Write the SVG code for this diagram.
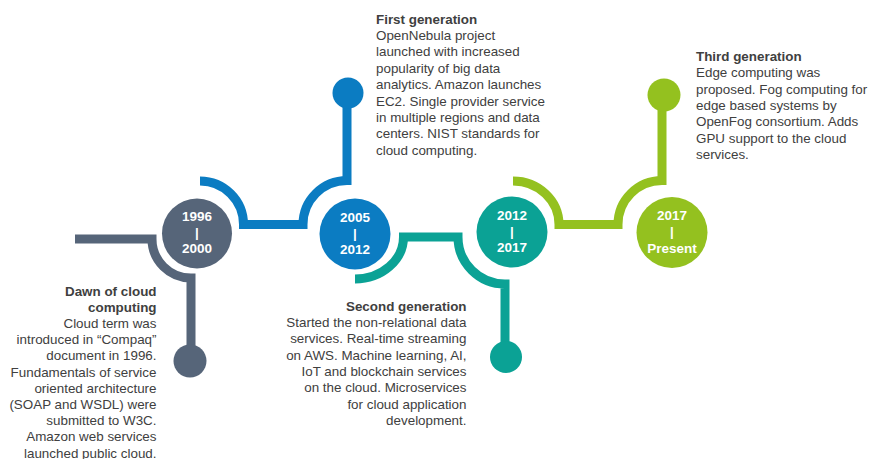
<svg xmlns="http://www.w3.org/2000/svg" width="870" height="459" viewBox="0 0 870 459">
  <style>
    .conn { fill: none; stroke-width: 9; stroke-linecap: butt; stroke-linejoin: miter; }
    .grey { stroke: #566579; }
    .blue { stroke: #0b7cc2; }
    .teal { stroke: #0ba295; }
    .green { stroke: #94c11f; }
    .yr { font-family: "Liberation Sans", Arial, sans-serif; font-weight: bold; font-size: 13.5px; fill: #ffffff; text-anchor: middle; }
    .desc { font-family: "Liberation Sans", Arial, sans-serif; font-size: 13.4px; fill: #404040; }
    .ttl { font-weight: bold; }
    .r { text-anchor: end; }
  </style>
  <rect width="870" height="459" fill="#ffffff"/>

  <g id="connectors">
    <path class="conn grey" d="M75,239 H152 A39,39 0 0 0 191,278 V350"/>
    <circle cx="190" cy="361" r="16.5" fill="#566579"/>
    <path class="conn blue" d="M200,181 A43.5,43.5 0 0 1 243.5,224.5 H303 A44,44 0 0 1 347,180.5 V100"/>
    <circle cx="348" cy="93" r="15.5" fill="#0b7cc2"/>
    <path class="conn teal" d="M355,279 A48.5,42 0 0 0 403.5,237 H458 A47,47 0 0 0 505,284 V350"/>
    <circle cx="506" cy="357" r="16" fill="#0ba295"/>
    <path class="conn green" d="M513,181 A46,43.5 0 0 1 559,224.5 H618 A44,44 0 0 1 662,180.5 V100"/>
    <circle cx="664" cy="95" r="16.5" fill="#94c11f"/>
  </g>

  <g id="node-1996-2000">
    <circle cx="197" cy="233.5" r="35" fill="#566579"/>
    <text class="yr" x="197" y="221">1996</text>
    <text class="yr" x="197" y="237">|</text>
    <text class="yr" x="197" y="253">2000</text>
  </g>
  <g id="node-2005-2012">
    <circle cx="355" cy="234" r="35.5" fill="#0b7cc2"/>
    <text class="yr" x="355" y="221.5">2005</text>
    <text class="yr" x="355" y="237.5">|</text>
    <text class="yr" x="355" y="253.5">2012</text>
  </g>
  <g id="node-2012-2017">
    <circle cx="512" cy="232" r="35.5" fill="#0ba295"/>
    <text class="yr" x="512" y="220">2012</text>
    <text class="yr" x="512" y="236">|</text>
    <text class="yr" x="512" y="252">2017</text>
  </g>
  <g id="node-2017-present">
    <circle cx="672" cy="232.5" r="35.5" fill="#94c11f"/>
    <text class="yr" x="672" y="220">2017</text>
    <text class="yr" x="672" y="236">|</text>
    <text class="yr" x="672" y="252.5">Present</text>
  </g>

  <g id="text-dawn" class="desc r">
    <text class="ttl" x="156.5" y="295.5">Dawn of cloud</text>
    <text class="ttl" x="156.5" y="311.7">computing</text>
    <text x="156.5" y="327.9">Cloud term was</text>
    <text x="156.5" y="344.1">introduced in “Compaq”</text>
    <text x="156.5" y="360.3">document in 1996.</text>
    <text x="156.5" y="376.5">Fundamentals of service</text>
    <text x="156.5" y="392.7">oriented architecture</text>
    <text x="156.5" y="408.9">(SOAP and WSDL) were</text>
    <text x="156.5" y="425.1">submitted to W3C.</text>
    <text x="156.5" y="441.3">Amazon web services</text>
    <text x="156.5" y="457.5">launched public cloud.</text>
  </g>

  <g id="text-first" class="desc">
    <text class="ttl" x="376" y="23.5">First generation</text>
    <text x="376" y="39.9">OpenNebula project</text>
    <text x="376" y="56.3">launched with increased</text>
    <text x="376" y="72.7">popularity of big data</text>
    <text x="376" y="89.1">analytics. Amazon launches</text>
    <text x="376" y="105.5">EC2. Single provider service</text>
    <text x="376" y="121.9">in multiple regions and data</text>
    <text x="376" y="138.3">centers. NIST standards for</text>
    <text x="376" y="154.7">cloud computing.</text>
  </g>

  <g id="text-second" class="desc r">
    <text class="ttl" x="466.5" y="310.7">Second generation</text>
    <text x="466.5" y="327">Started the non-relational data</text>
    <text x="466.5" y="343.3">services. Real-time streaming</text>
    <text x="466.5" y="359.6">on AWS. Machine learning, AI,</text>
    <text x="466.5" y="375.9">IoT and blockchain services</text>
    <text x="466.5" y="392.2">on the cloud. Microservices</text>
    <text x="466.5" y="408.5">for cloud application</text>
    <text x="466.5" y="424.8">development.</text>
  </g>

  <g id="text-third" class="desc">
    <text class="ttl" x="696" y="60.7">Third generation</text>
    <text x="696" y="77.1">Edge computing was</text>
    <text x="696" y="93.5">proposed. Fog computing for</text>
    <text x="696" y="109.9">edge based systems by</text>
    <text x="696" y="126.3">OpenFog consortium. Adds</text>
    <text x="696" y="142.7">GPU support to the cloud</text>
    <text x="696" y="159.1">services.</text>
  </g>
</svg>
